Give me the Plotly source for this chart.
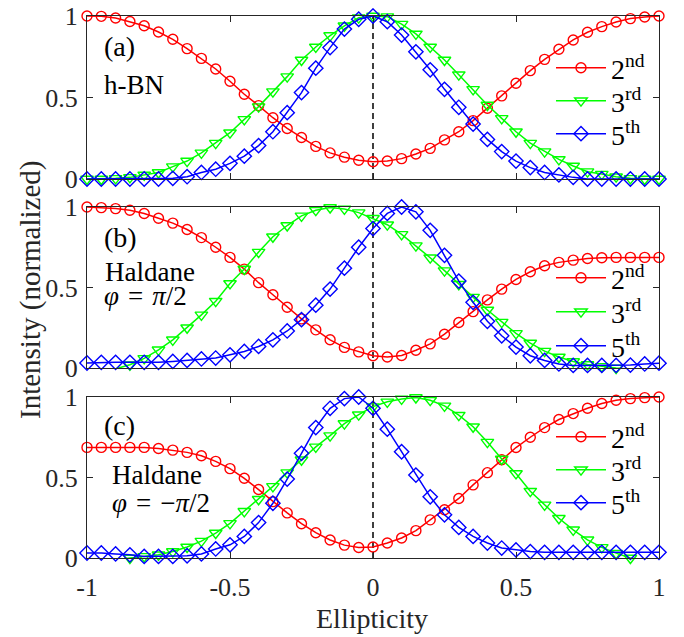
import plotly.graph_objects as go

ellipticity = [-1.0, -0.95, -0.9, -0.85, -0.8, -0.75, -0.7, -0.65, -0.6, -0.55, -0.5,
               -0.45, -0.4, -0.35, -0.3, -0.25, -0.2, -0.15, -0.1, -0.05, 0.0,
               0.05, 0.1, 0.15, 0.2, 0.25, 0.3, 0.35, 0.4, 0.45, 0.5,
               0.55, 0.6, 0.65, 0.7, 0.75, 0.8, 0.85, 0.9, 0.95, 1.0]

# Panel (a) h-BN
a_2nd = [1.0, 0.998, 0.988, 0.966, 0.94, 0.902, 0.857, 0.80, 0.74, 0.675, 0.60,
         0.52, 0.45, 0.376, 0.31, 0.255, 0.20, 0.16, 0.134, 0.115, 0.106,
         0.11, 0.125, 0.153, 0.188, 0.24, 0.29, 0.358, 0.434, 0.51, 0.587,
         0.665, 0.734, 0.796, 0.853, 0.90, 0.935, 0.963, 0.984, 0.994, 1.0]
a_3rd = [0.0, 0.0, 0.004, 0.01, 0.025, 0.04, 0.076, 0.11, 0.16, 0.22, 0.284,
         0.366, 0.444, 0.536, 0.628, 0.73, 0.81, 0.88, 0.94, 0.99, 1.0,
         0.996, 0.95, 0.89, 0.81, 0.73, 0.64, 0.55, 0.454, 0.372, 0.29,
         0.22, 0.168, 0.12, 0.08, 0.045, 0.03, 0.014, 0.004, 0.0, 0.0]
a_5th = [0.0, 0.0, 0.0, 0.0, 0.0, 0.0, 0.004, 0.014, 0.04, 0.06, 0.096,
         0.14, 0.205, 0.29, 0.407, 0.53, 0.68, 0.806, 0.92, 0.98, 1.0,
         0.965, 0.883, 0.78, 0.67, 0.55, 0.44, 0.337, 0.243, 0.168, 0.11,
         0.07, 0.04, 0.025, 0.01, 0.0, 0.0, 0.0, 0.0, 0.0, 0.0]

# Panel (b) Haldane, phi = pi/2
b_2nd = [1.0, 0.996, 0.99, 0.98, 0.96, 0.93, 0.90, 0.86, 0.81, 0.75, 0.687,
         0.614, 0.53, 0.455, 0.377, 0.305, 0.237, 0.175, 0.128, 0.10, 0.076,
         0.068, 0.078, 0.11, 0.15, 0.21, 0.283, 0.35, 0.423, 0.49, 0.55,
         0.598, 0.635, 0.656, 0.67, 0.68, 0.685, 0.687, 0.687, 0.687, 0.687]
b_3rd = [-0.012, -0.012, -0.005, 0.02, 0.06, 0.113, 0.175, 0.25, 0.33, 0.415, 0.525,
         0.615, 0.72, 0.815, 0.885, 0.945, 0.98, 0.997, 0.988, 0.965, 0.93,
         0.89, 0.83, 0.76, 0.685, 0.605, 0.52, 0.44, 0.36, 0.285, 0.215,
         0.155, 0.105, 0.068, 0.04, 0.022, 0.01, 0.0, -0.008, -0.012, -0.012]
b_5th = [0.031, 0.035, 0.035, 0.035, 0.035, 0.035, 0.041, 0.047, 0.056, 0.062, 0.082,
         0.103, 0.134, 0.175, 0.23, 0.30, 0.39, 0.49, 0.62, 0.75, 0.866,
         0.96, 1.0, 0.97, 0.855, 0.70, 0.54, 0.408, 0.29, 0.20, 0.13,
         0.076, 0.047, 0.025, 0.016, 0.016, 0.016, 0.016, 0.018, 0.025, 0.03]

# Panel (c) Haldane, phi = -pi/2
c_2nd = [0.687, 0.687, 0.687, 0.687, 0.687, 0.68, 0.67, 0.656, 0.635, 0.60, 0.555,
         0.495, 0.425, 0.35, 0.28, 0.213, 0.157, 0.112, 0.08, 0.065, 0.068,
         0.093, 0.124, 0.17, 0.237, 0.30, 0.37, 0.454, 0.53, 0.61, 0.686,
         0.75, 0.81, 0.86, 0.897, 0.93, 0.96, 0.98, 0.99, 0.996, 1.0]
c_3rd = [-0.012, -0.012, -0.01, 0.0, 0.01, 0.02, 0.04, 0.068, 0.105, 0.155, 0.215,
         0.29, 0.365, 0.445, 0.53, 0.61, 0.69, 0.76, 0.835, 0.89, 0.94,
         0.97, 0.988, 0.997, 0.98, 0.945, 0.887, 0.815, 0.72, 0.615, 0.525,
         0.415, 0.33, 0.247, 0.175, 0.113, 0.066, 0.03, 0.0, -0.015, -0.015]
c_5th = [0.031, 0.031, 0.025, 0.02, 0.01, 0.01, 0.01, 0.014, 0.025, 0.056, 0.082,
         0.134, 0.22, 0.34, 0.49, 0.65, 0.81, 0.93, 0.99, 1.0, 0.93,
         0.80, 0.66, 0.515, 0.38, 0.268, 0.19, 0.134, 0.093, 0.062, 0.05,
         0.04, 0.035, 0.035, 0.035, 0.035, 0.035, 0.035, 0.035, 0.035, 0.035]

series_names = ["2<sup>nd</sup>", "3<sup>rd</sup>", "5<sup>th</sup>"]
series_colors = ["#FF0000", "#00FF00", "#0000FF"]
series_symbols = ["circle-open", "triangle-down-open", "diamond-open"]
series_sizes = [10, 11, 11]

x_ticks = [-1, -0.5, 0, 0.5, 1]
x_ticklabels = ["-1", "-0.5", "0", "0.5", "1"]
y_ticks = [0, 0.5, 1]
y_ticklabels = ["0", "0.5", "1"]

SP = "\u2004"
panels = [
    ([a_2nd, a_3rd, a_5th], ["(a)", "h-BN"]),
    ([b_2nd, b_3rd, b_5th], ["(b)", "Haldane", f"<i>φ</i>{SP}={SP}<i>π</i>/2"]),
    ([c_2nd, c_3rd, c_5th], ["(c)", "Haldane", f"<i>φ</i>{SP}={SP}−<i>π</i>/2"]),
]

FONT = "Liberation Serif, Times New Roman, Times, DejaVu Serif, serif"
AXC = "#262626"

# page body has an 8px margin: figure is sized so the plot lands where the reference has it
OFF = 8
W, H = 684 - OFF, 637 - OFF
ML, MR, MT, MB = 87 - OFF, 25, 16 - OFF, 79
PW = W - ML - MR
PH = H - MT - MB

def py(pix):
    # reference pixel row -> paper fraction
    return (OFF + MT + PH - pix) / PH

def px(pix):
    return (pix - OFF - ML) / PW

domains = [(py(179), py(16)), (py(368), py(207)), (py(558), py(397))]
legend_rows = [[68, 101, 134], [278, 312, 346], [437, 470, 503]]
# (x in reference px, y in reference px, font size)
text_pos = [
    [(102, 46, 28), (102, 85, 27)],
    [(102, 237, 28), (103, 272, 27), (102, 296, 27)],
    [(102, 425, 28), (110, 475, 27), (110, 503, 27)],
]

fig = go.Figure()
layout = {}
k = 0
for i, (vals, texts) in enumerate(panels):
    n = i + 1
    xa = "x" if n == 1 else f"x{n}"
    ya = "y" if n == 1 else f"y{n}"
    for s in range(3):
        k += 1
        lg = "legend" if k == 1 else f"legend{k}"
        fig.add_trace(go.Scatter(
            x=ellipticity, y=vals[s], mode="lines+markers",
            name=series_names[s], legend=lg,
            xaxis=xa, yaxis=ya, cliponaxis=False,
            line=dict(color=series_colors[s], width=1.5),
            marker=dict(symbol=series_symbols[s], size=series_sizes[s],
                        color=series_colors[s], line=dict(width=1.4, color=series_colors[s])),
        ))
        layout[lg] = dict(
            x=px(551), y=py(legend_rows[i][s]),
            xanchor="left", yanchor="middle", bgcolor="rgba(0,0,0,0)",
            borderwidth=0, itemwidth=50,
            font=dict(family=FONT, size=28, color="#000000"),
        )
    layout[f"xaxis{'' if n == 1 else n}"] = dict(
        domain=[0, 1], anchor=ya, range=[-1, 1], automargin=False,
        tickvals=x_ticks, ticktext=x_ticklabels, showticklabels=(n == 3),
        ticks="inside", ticklen=6, tickcolor=AXC, tickwidth=1,
        showline=True, linecolor=AXC, linewidth=1, mirror="ticks",
        showgrid=False, zeroline=False, ticklabeloverflow="allow",
        tickfont=dict(family=FONT, size=26, color=AXC),
        ticklabelstandoff=6,
    )
    layout[f"yaxis{'' if n == 1 else n}"] = dict(
        domain=list(domains[i]), anchor=xa, range=[0, 1], automargin=False,
        tickvals=y_ticks, ticktext=y_ticklabels,
        ticks="inside", ticklen=6, tickcolor=AXC, tickwidth=1,
        showline=True, linecolor=AXC, linewidth=1, mirror="ticks",
        showgrid=False, zeroline=False, ticklabeloverflow="allow",
        tickfont=dict(family=FONT, size=26, color=AXC),
        ticklabelstandoff=3,
    )
    fig.add_shape(type="line", xref=xa, yref=f"{ya} domain", x0=0, x1=0, y0=0, y1=1,
                  line=dict(color="#000000", width=1.5, dash="6px,4px"), layer="below")
    for t, txt in enumerate(texts):
        tx, ty, fs = text_pos[i][t]
        fig.add_annotation(
            xref="paper", yref="paper", x=px(tx), y=py(ty),
            xanchor="left", yanchor="middle", showarrow=False, text=txt,
            font=dict(family=FONT, size=fs, color="#000000"),
        )

fig.add_annotation(xref="paper", yref="paper", x=px(30), y=py(290),
                   xanchor="center", yanchor="middle", textangle=-90, showarrow=False,
                   text="Intensity (normalized)", font=dict(family=FONT, size=29, color=AXC))
fig.add_annotation(xref="paper", yref="paper", x=px(372), y=py(618),
                   xanchor="center", yanchor="middle", showarrow=False,
                   text="Ellipticity", font=dict(family=FONT, size=28, color=AXC))

fig.update_layout(
    width=W, height=H, margin=dict(l=ML, r=MR, t=MT, b=MB, autoexpand=False),
    paper_bgcolor="white", plot_bgcolor="white", showlegend=True,
    **layout,
)
fig.write_html("out.html")
